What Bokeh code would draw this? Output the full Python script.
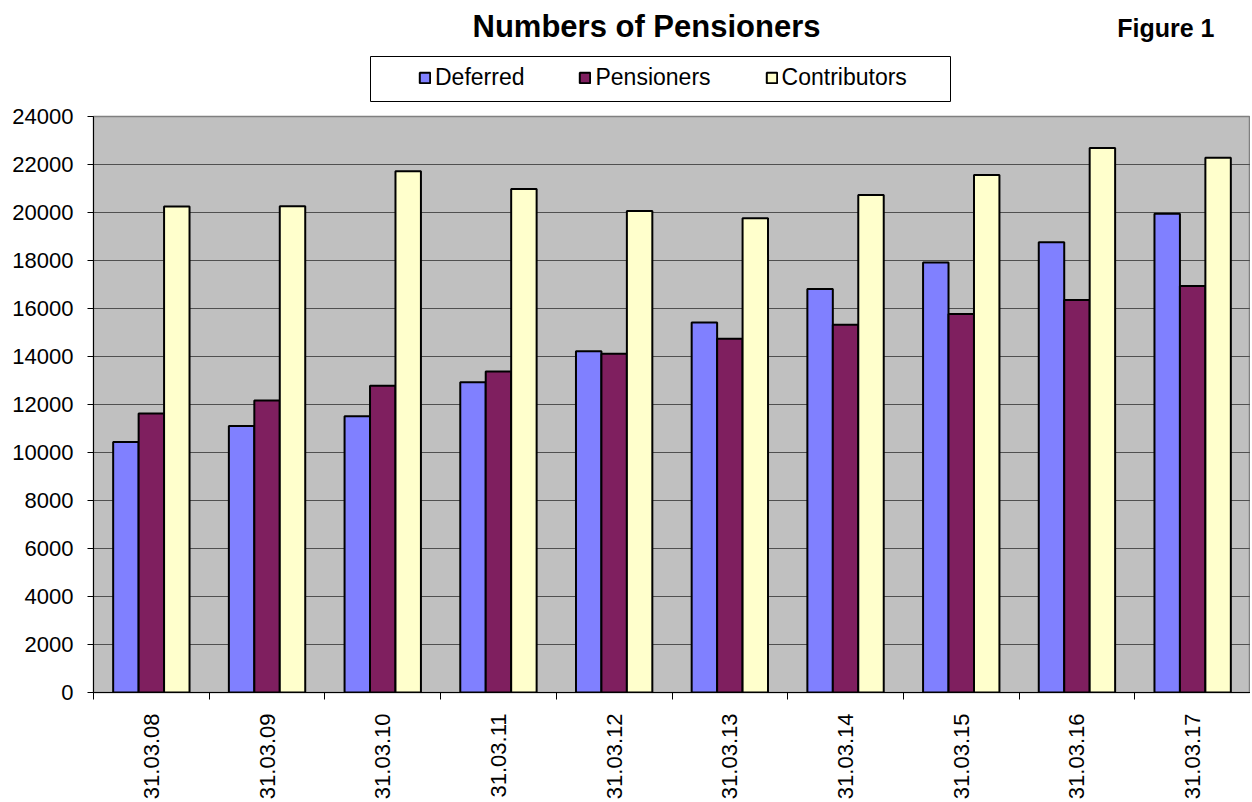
import numpy as np
from bokeh.plotting import figure
from bokeh.layouts import column
from bokeh.models import (ColumnDataSource, FixedTicker, Range1d, Legend, LegendItem,
                          Label, BoxAnnotation)
from bokeh.transform import dodge
from bokeh.embed import file_html
from bokeh.resources import INLINE

# ---- data ----
categories = ["31.03.08", "31.03.09", "31.03.10", "31.03.11", "31.03.12",
              "31.03.13", "31.03.14", "31.03.15", "31.03.16", "31.03.17"]
deferred = [10440, 11100, 11510, 12930, 14220, 15420, 16810, 17920, 18760, 19950]
pensioners = [11620, 12170, 12780, 13380, 14110, 14740, 15320, 15770, 16350, 16940]
contributors = [20250, 20260, 21720, 20980, 20060, 19760, 20730, 21560, 22690, 22280]
series_names = ["Deferred", "Pensioners", "Contributors"]
series_colors = ["#8080FF", "#7F1F5F", "#FFFFCC"]
y_ticks = list(range(0, 24001, 2000))
title_text = "Numbers of Pensioners"
figure_text = "Figure 1"

FONT = "Liberation Sans"
W = 1250
LEFT = 93
TOP_H = 102

centers = [i + 0.5 for i in range(len(categories))]
source = ColumnDataSource(dict(x=centers, cat=categories, Deferred=deferred,
                               Pensioners=pensioners, Contributors=contributors))

# ---------------- header figure: title, figure number, legend ----------------
# its frame spans page x LEFT..W and page y 0..TOP_H, so data coords = page pixels
top = figure(width=W, height=TOP_H, output_backend="svg", toolbar_location=None,
             x_range=Range1d(LEFT, W), y_range=Range1d(TOP_H, 0),
             x_axis_type=None, y_axis_type=None,
             min_border_left=LEFT, min_border_right=0, min_border_top=0, min_border_bottom=0,
             background_fill_color="white", border_fill_color="white")
top.outline_line_color = None
top.grid.visible = False

box = BoxAnnotation(left=370, right=950, top=56, bottom=101,
                    fill_color="white", fill_alpha=1.0,
                    line_color="black", line_alpha=1.0, line_width=1)
top.add_layout(box)

# legend proxies (hidden renderers that only supply the legend swatches)
legend_renderers = []
for name, color in zip(series_names, series_colors):
    r = top.vbar(x="x", top=name, bottom=0, width=0.22, source=source,
                 fill_color=color, line_color="black", line_width=2, visible=False)
    legend_renderers.append(r)

legend = Legend(items=[LegendItem(label=n, renderers=[r]) for n, r in zip(series_names, legend_renderers)],
                orientation="horizontal", location=(418 - LEFT, TOP_H - 91), padding=0, spacing=54,
                glyph_width=13, glyph_height=13, label_standoff=4, label_height=24,
                label_text_font=FONT, label_text_font_size="23px", label_text_color="black",
                border_line_color=None, background_fill_alpha=0, margin=0,
                inactive_fill_alpha=0)
top.add_layout(legend, "center")

top.add_layout(Label(x=646, y=26, text=title_text, text_color="black",
                     text_font=FONT, text_font_style="bold", text_font_size="31px",
                     text_align="center", text_baseline="middle"))
top.add_layout(Label(x=1214, y=27, text=figure_text, text_color="black",
                     text_font=FONT, text_font_style="bold", text_font_size="25px",
                     text_align="right", text_baseline="middle"))

# ---------------- main chart ----------------
p = figure(width=W, height=802 - TOP_H, output_backend="svg", toolbar_location=None,
           x_range=Range1d(0, len(categories)), y_range=Range1d(0, 24000),
           min_border_left=LEFT, min_border_right=0, min_border_top=14, min_border_bottom=100,
           background_fill_color="#C0C0C0", border_fill_color="white")
p.outline_line_color = "#808080"
p.outline_line_width = 1.5

offsets = [-0.22, 0.0, 0.22]
for name, color, off in zip(series_names, series_colors, offsets):
    p.vbar(x=dodge("x", off, range=p.x_range), top=name, bottom=0, width=0.22,
           source=source, fill_color=color, line_color="black", line_width=2)

xa = p.xaxis[0]
xa.ticker = FixedTicker(ticks=centers, minor_ticks=list(range(len(categories) + 1)))
xa.major_label_overrides = {c: lab for c, lab in zip(centers, categories)}
xa.major_tick_out = 0
xa.major_tick_in = 0
xa.minor_tick_out = 7
xa.minor_tick_in = 0
xa.minor_tick_line_color = "black"
xa.major_label_orientation = np.pi / 2
xa.major_label_standoff = 14
xa.major_label_text_font = FONT
xa.major_label_text_font_size = "22px"
xa.major_label_text_color = "black"
xa.axis_line_color = "black"

ya = p.yaxis[0]
ya.ticker = FixedTicker(ticks=y_ticks)
ya.major_tick_out = 6
ya.major_tick_in = 0
ya.minor_tick_out = 0
ya.minor_tick_in = 0
ya.major_label_standoff = 14
ya.major_label_text_font = FONT
ya.major_label_text_font_size = "22px"
ya.major_label_text_color = "black"
ya.axis_line_color = "black"

p.xgrid.visible = False
p.ygrid.ticker = FixedTicker(ticks=y_ticks)
p.ygrid.grid_line_color = "#505050"
p.ygrid.grid_line_width = 1

layout = column(top, p, spacing=0)
open("out.html", "w").write(file_html(layout, INLINE))
